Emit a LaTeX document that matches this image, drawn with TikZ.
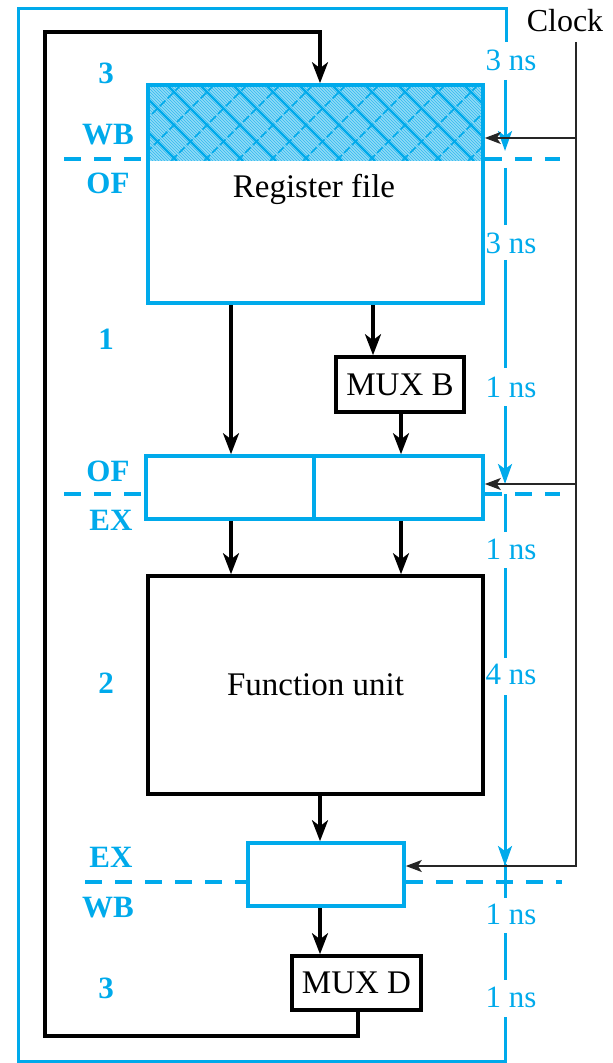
\documentclass[tikz,border=0pt]{standalone}
\usepackage{fontspec}
\setmainfont{Liberation Serif}
\usetikzlibrary{arrows.meta}
\definecolor{cy}{RGB}{0,170,235}
\begin{document}
\begin{tikzpicture}[x=0.5pt,y=-0.5pt,
  bbox/.style={draw=black, line width=1.8pt, inner sep=0pt, font=\fontsize{16.5}{18}\selectfont},
  cbox/.style={draw=cy, line width=1.8pt, inner sep=0pt},
  arr/.style={line width=1.7pt, -{Stealth[length=10.5pt,width=8pt,inset=3pt]}},
  tl/.style={draw=cy, line width=1.5pt},
  tarr/.style={-{Stealth[length=10pt,width=7pt,inset=2.5pt]}},
  clk/.style={draw=black!85, line width=0.9pt},
  carr/.style={-{Stealth[length=8pt,width=6pt,inset=2pt]}},
  stageline/.style={draw=cy, line width=1.7pt, dash pattern=on 8.5pt off 6.5pt},
  stl/.style={text=cy, font=\bfseries\fontsize{15.5}{17}\selectfont},
  tns/.style={text=cy, font=\fontsize{15.5}{17}\selectfont},
]
\useasboundingbox (0,0) rectangle (613,1063);

% hatch of register file write part
\begin{scope}
  \clip (148,85) rectangle (483,161);
  \fill[cy!38] (148,85) rectangle (483,161);
  \foreach \i in {-80,-77,...,340} \draw[cy!75, line width=0.5pt] (148+\i,85) -- ++(76,76);
  \foreach \i in {-80,-47,...,340} \draw[cy, line width=1.2pt] (148+\i,85) -- ++(76,76);
  \foreach \i in {0,33,...,440} \draw[cy, line width=0.8pt, dash pattern=on 4pt off 1.5pt] (148+\i,85) -- ++(-76,76);
\end{scope}

% boxes
\node[cbox, minimum width=167.5pt, minimum height=109pt] (rf) at (315.5,194) {};
\node[font=\fontsize{16.5}{18}\selectfont] (rft) at (314,189) {Register file};
\node[bbox, minimum width=64pt, minimum height=27.5pt] (muxb) at (400,384.5) {MUX B};
\node[cbox, minimum width=168.5pt, minimum height=31.5pt] (ofex) at (314.5,487.5) {};
\draw[cy, line width=1.8pt] (ofex.north -| 314,0) -- (ofex.south -| 314,0);
\node[bbox, minimum width=167.5pt, minimum height=109pt] (fu) at (315.5,685) {Function unit};
\node[cbox, minimum width=78pt, minimum height=31.5pt] (exwb) at (326,874.5) {};
\node[bbox, minimum width=64.5pt, minimum height=27pt] (muxd) at (356.5,983) {MUX D};

% x positions
\coordinate (xa) at (231,0);
\coordinate (xb) at (373,0);
\coordinate (xc) at (401,0);
\coordinate (xr) at (320,0);
\coordinate (xd) at (358,0);

% data arrows
\draw[arr] (rf.south -| xa) -- (ofex.north -| xa);
\draw[arr] (rf.south -| xb) -- (muxb.north -| xb);
\draw[arr] (muxb.south -| xc) -- (ofex.north -| xc);
\draw[arr] (ofex.south -| xa) -- (fu.north -| xa);
\draw[arr] (ofex.south -| xc) -- (fu.north -| xc);
\draw[arr] (fu.south -| xr) -- (exwb.north -| xr);
\draw[arr] (exwb.south -| xr) -- (muxd.north -| xr);

% feedback loop
\coordinate (lb) at (45,1036);
\coordinate (lt) at (45,32);
\draw[arr] (muxd.south -| xd) -- (xd |- lb) -- (lb) -- (lt) -- (xr |- lt) -- (rf.north -| xr);

% stage dashed lines
\coordinate (d1l) at (64,159); \coordinate (d1r) at (560,159);
\coordinate (d2l) at (64,494); \coordinate (d2r) at (560,494);
\coordinate (d3l) at (85,882); \coordinate (d3r) at (562,882);
\draw[stageline] (d1l) -- (d1l -| rf.west);
\draw[stageline] (d1r -| rf.east) -- (d1r);
\draw[stageline] (d2l) -- (d2l -| ofex.west);
\draw[stageline] (d2r -| ofex.east) -- (d2r);
\draw[stageline] (d3l) -- (d3l -| exwb.west);
\draw[stageline] (d3r -| exwb.east) -- (d3r);

% frame and timing line
\draw[tl] (506,42) -- (506,9) -- (18,9) -- (18,1061) -- (505,1061) -- (505,1017);
\draw[tl,tarr] (505,80) -- (505,151);
\draw[tl] (505,168) -- (505,225);
\draw[tl] (505,260) -- (505,368);
\draw[tl,tarr] (505,406) -- (505,484);
\draw[tl] (505,494) -- (505,532);
\draw[tl] (505,568) -- (505,658);
\draw[tl,tarr] (505,695) -- (505,866);
\draw[tl] (505,864) -- (505,898);
\draw[tl] (505,933) -- (505,980);

\node[tns] (t1) at (511,60) {3 ns};
\node[tns] (t2) at (511,243) {3 ns};
\node[tns] (t3) at (511,387) {1 ns};
\node[tns] (t4) at (511,549) {1 ns};
\node[tns] (t5) at (511,674) {4 ns};
\node[tns] (t6) at (511,914) {1 ns};
\node[tns] (t7) at (511,997) {1 ns};

% clock
\node[font=\fontsize{16}{18}\selectfont] (clock) at (565,21) {Clock};
\coordinate (ck0) at (576,42);
\coordinate (ck1) at (576,138);
\coordinate (ck2) at (576,484);
\coordinate (ck3) at (576,866);
\draw[clk,carr] (ck0) -- (ck3) -- (ck3 -| exwb.east);
\draw[clk,carr] (ck1) -- (ck1 -| rf.east);
\draw[clk,carr] (ck2) -- (ck2 -| ofex.east);

% stage labels
\node[stl] (s1) at (106,73) {3};
\node[stl] (s2) at (108,135) {WB};
\node[stl] (s3) at (108,183) {OF};
\node[stl] (s4) at (106,339) {1};
\node[stl] (s5) at (108,471) {OF};
\node[stl] (s6) at (111,520) {EX};
\node[stl] (s7) at (106,683) {2};
\node[stl] (s8) at (111,857) {EX};
\node[stl] (s9) at (108,908) {WB};
\node[stl] (s10) at (106,988) {3};
\end{tikzpicture}
\end{document}
